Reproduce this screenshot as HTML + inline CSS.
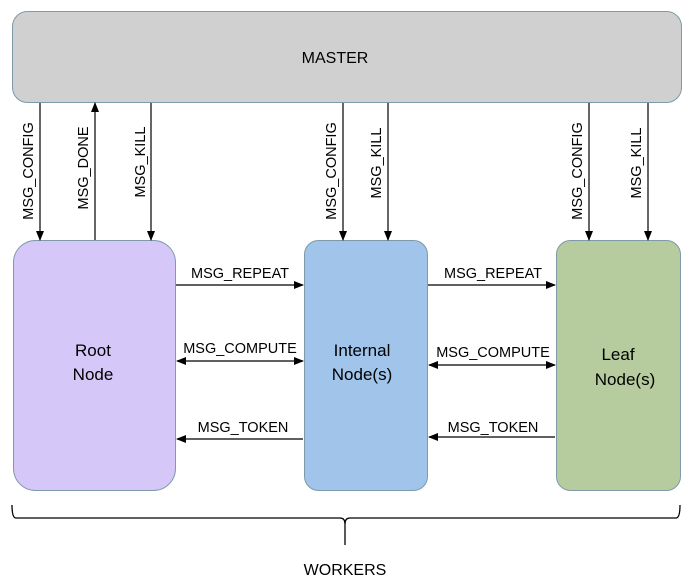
<!DOCTYPE html>
<html><head><style>body{margin:0;background:#fff}svg{display:block}</style></head><body>
<svg width="690" height="585" viewBox="0 0 690 585" xmlns="http://www.w3.org/2000/svg" font-family="Liberation Sans, sans-serif">
<defs><marker id="a" markerWidth="10" markerHeight="8" refX="9" refY="4" orient="auto-start-reverse" markerUnits="userSpaceOnUse"><path d="M0,0 L10,4 L0,8 z" fill="#000"/></marker></defs>
<rect x="12.5" y="11.5" width="669" height="91" rx="15" fill="#d0d0d0" stroke="#7f9aaa"/>
<text x="335" y="63" font-size="16" text-anchor="middle">MASTER</text>
<rect x="13.5" y="240.5" width="162" height="250" rx="22" fill="#d5c8f8" stroke="#7f9aaa"/>
<rect x="304.5" y="240.5" width="123" height="250" rx="14" fill="#a0c4ea" stroke="#7f9aaa"/>
<rect x="556.5" y="240.5" width="124" height="250" rx="14" fill="#b7cc9e" stroke="#7f9aaa"/>
<g font-size="17" text-anchor="middle">
<text x="93" y="356">Root</text><text x="93" y="380">Node</text>
<text x="362" y="356">Internal</text><text x="362" y="380">Node(s)</text>
<text x="618" y="360">Leaf</text><text x="625" y="385">Node(s)</text>
</g>
<g stroke="#000" stroke-width="1.2" fill="none">
<line x1="40" y1="103" x2="40" y2="240" marker-end="url(#a)"/>
<line x1="95" y1="240" x2="95" y2="103" marker-end="url(#a)"/>
<line x1="151" y1="103" x2="151" y2="240" marker-end="url(#a)"/>
<line x1="343" y1="103" x2="343" y2="240" marker-end="url(#a)"/>
<line x1="388" y1="103" x2="388" y2="240" marker-end="url(#a)"/>
<line x1="589" y1="103" x2="589" y2="240" marker-end="url(#a)"/>
<line x1="648" y1="103" x2="648" y2="240" marker-end="url(#a)"/>
<line x1="176" y1="285" x2="303" y2="285" marker-end="url(#a)"/>
<line x1="177" y1="361" x2="303" y2="361" marker-start="url(#a)" marker-end="url(#a)"/>
<line x1="303" y1="439" x2="177" y2="439" marker-end="url(#a)"/>
<line x1="428" y1="285" x2="555" y2="285" marker-end="url(#a)"/>
<line x1="429" y1="365" x2="555" y2="365" marker-start="url(#a)" marker-end="url(#a)"/>
<line x1="555" y1="437" x2="429" y2="437" marker-end="url(#a)"/>
<path d="M12,505 Q12,518 16,518 L340,518 Q345,518 345,524 L345,545 M345,524 Q345,518 350,518 L676,518 Q680,518 680,505" stroke-width="1.3"/>
</g>
<g font-size="14.5" text-anchor="middle">
<text x="240" y="278">MSG_REPEAT</text>
<text x="240" y="353">MSG_COMPUTE</text>
<text x="243" y="432">MSG_TOKEN</text>
<text x="493" y="278">MSG_REPEAT</text>
<text x="493" y="357">MSG_COMPUTE</text>
<text x="493" y="432">MSG_TOKEN</text>
<text transform="translate(33,171) rotate(-90)">MSG_CONFIG</text>
<text transform="translate(88,168) rotate(-90)">MSG_DONE</text>
<text transform="translate(145,162) rotate(-90)">MSG_KILL</text>
<text transform="translate(336,171) rotate(-90)">MSG_CONFIG</text>
<text transform="translate(381,163) rotate(-90)">MSG_KILL</text>
<text transform="translate(582,171) rotate(-90)">MSG_CONFIG</text>
<text transform="translate(641,163) rotate(-90)">MSG_KILL</text>
</g>
<text x="345" y="575" font-size="16" text-anchor="middle">WORKERS</text>
</svg>
</body></html>
